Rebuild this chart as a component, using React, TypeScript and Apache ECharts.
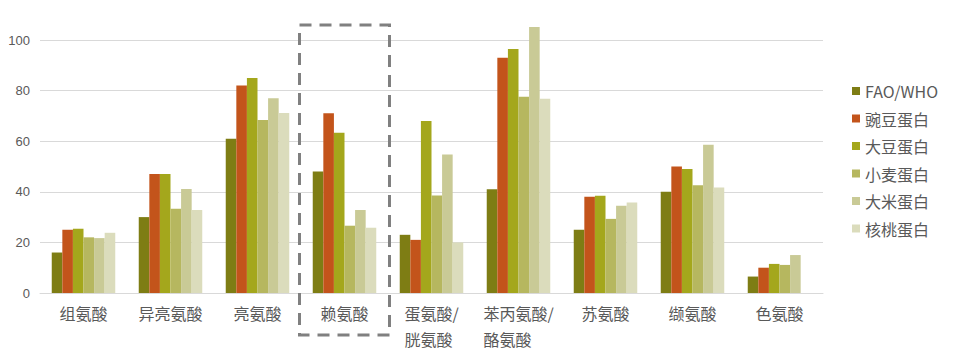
import React, { useEffect, useRef } from "react";
import * as echarts from "echarts";

const categories = ["组氨酸", "异亮氨酸", "亮氨酸", "赖氨酸", "蛋氨酸/\n胱氨酸", "苯丙氨酸/\n酪氨酸", "苏氨酸", "缬氨酸", "色氨酸"];
const seriesNames = ["FAO/WHO", "豌豆蛋白", "大豆蛋白", "小麦蛋白", "大米蛋白", "核桃蛋白"];
const faoWho = [16, 30, 61, 48, 23, 41, 25, 40, 6.5];
const pea = [25, 47, 82, 71, 21, 93, 38, 50, 10];
const soy = [25.4, 47, 85, 63.3, 68, 96.4, 38.4, 49, 11.5];
const wheat = [22, 33.3, 68.4, 26.6, 38.5, 77.6, 29.3, 42.6, 11.1];
const rice = [21.7, 41.1, 77, 32.8, 54.7, 105.1, 34.5, 58.6, 15];
const walnut = [23.8, 32.8, 71.1, 25.8, 20, 76.8, 35.8, 41.7, null];
const colors = ["#7e7d14", "#c3541b", "#a4a71c", "#b6b75f", "#c9ca96", "#dbdcbc"];
const yTicks = { min: 0, max: 100, interval: 20 };
const highlightIndex = 3;

export default function App() {
  const ref = useRef<HTMLDivElement>(null);
  useEffect(() => {
    if (!ref.current) return;
    const chart = echarts.init(ref.current, undefined, { renderer: "svg" });
    const data = [faoWho, pea, soy, wheat, rice, walnut];
    const textColor = "#595959";
    const font = "'Noto Sans CJK SC', 'Liberation Sans', sans-serif";
    chart.setOption({
      animation: false,
      color: colors,
      textStyle: { fontFamily: font },
      grid: { left: 40, right: 130, top: 40, bottom: 56, containLabel: false },
      legend: {
        orient: "vertical",
        left: 847,
        top: 78,
        itemWidth: 8,
        itemHeight: 8,
        itemGap: 11.5,
        icon: "rect",
        textStyle: { color: textColor, fontSize: 16, lineHeight: 16, fontFamily: font },
        data: seriesNames,
      },
      xAxis: {
        type: "category",
        data: categories,
        axisLine: { show: true, lineStyle: { color: "#d9d9d9", width: 1 } },
        axisTick: { show: false },
        axisLabel: {
          color: textColor,
          fontSize: 16,
          lineHeight: 26,
          margin: 7,
          interval: 0,
          fontFamily: font,
          formatter: (v: string) =>
            v.includes("\n") ? v.split("\n").map((s) => `{l|${s}}`).join("\n") : v,
          rich: {
            l: { align: "left", fontSize: 16, lineHeight: 26, color: textColor, fontFamily: font },
          },
        },
      },
      yAxis: {
        type: "value",
        min: yTicks.min,
        max: yTicks.max,
        interval: yTicks.interval,
        axisLine: { show: false },
        axisTick: { show: false },
        axisLabel: { color: textColor, fontSize: 13, margin: 10, fontFamily: "'Liberation Sans', Arial, sans-serif" },
        splitLine: { lineStyle: { color: "#d9d9d9", width: 1 } },
      },
      series: seriesNames.map((name, i) => ({
        name,
        type: "bar",
        data: data[i],
        barGap: "0%",
        barCategoryGap: "27%",
        clip: false,
      })),
    });
    const cx = chart.convertToPixel({ xAxisIndex: 0 }, highlightIndex) as number;
    chart.setOption({
      graphic: [
        {
          type: "rect",
          shape: { x: cx - 45, y: 25, width: 90, height: 310 },
          style: { fill: "none", stroke: "#808080", lineWidth: 3, lineDash: [12, 8] },
          z: 10,
        },
      ],
    });
    return () => chart.dispose();
  }, []);
  return <div ref={ref} style={{ width: 953, height: 352, position: "absolute", left: 0, top: 0 }} />;
}
